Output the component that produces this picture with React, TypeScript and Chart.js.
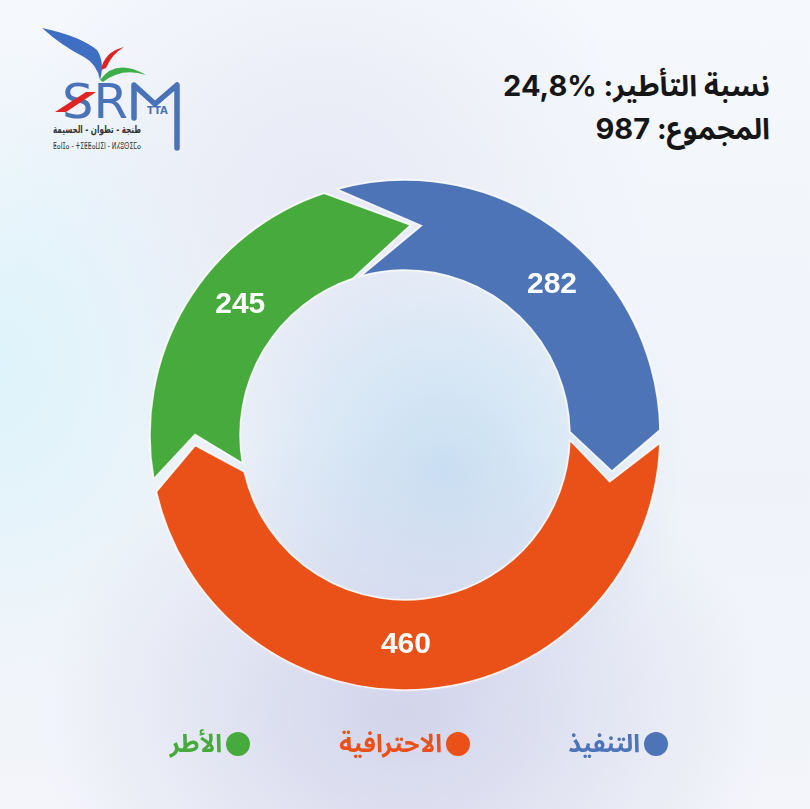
import React, { useEffect, useRef } from "react";
import { Chart, registerables } from "chart.js";

Chart.register(...registerables);

// ---- data ----
const categories = ["التنفيذ", "الاحترافية", "الأطر"];
const values = [282, 460, 245];
const colors = ["#4e74b8", "#ea5119", "#47aa3c"];
const titleLabels = ["نسبة التأطير:", "المجموع:"];
const titleValues = ["24,8%", "987"];
const logoCities = "طنجة - تطوان - الحسيمة";
const logoTifinagh = "ⵟⴰⵏⵊⴰ - ⵜⵉⵟⵟⴰⵡⵉⵏ - ⵍⵃⵓⵙⵉⵎⴰ";

// chevron size (degrees) at the end of each segment, and gap between segments
const tipDegrees = [11, 10, 20];
const gapDegrees = 3;

const legendRight = [142, 340, 560]; // right offsets of legend items (px from right edge)

const chevronPlugin = {
  id: "chevronArcs",
  beforeDatasetsDraw(chart: any) {
    const meta = chart.getDatasetMeta(0);
    const ctx: CanvasRenderingContext2D = chart.ctx;
    const n = meta.data.length;
    const ds = chart.data.datasets[0];
    const rad = Math.PI / 180;
    const g = gapDegrees * rad;
    ctx.save();
    meta.data.forEach((arc: any, i: number) => {
      const { x, y, startAngle, endAngle, innerRadius, outerRadius } = arc.getProps(
        ["x", "y", "startAngle", "endAngle", "innerRadius", "outerRadius"],
        true
      );
      const rMid = (innerRadius + outerRadius) / 2;
      const dEnd = tipDegrees[i] * rad;
      const dStart = tipDegrees[(i - 1 + n) % n] * rad;
      const s0 = startAngle - dStart / 2 + g / 2;
      const sN = startAngle + dStart / 2 + g / 2;
      const e0 = endAngle - dEnd / 2 - g / 2;
      const eT = endAngle + dEnd / 2 - g / 2;
      ctx.beginPath();
      ctx.arc(x, y, outerRadius, s0, e0, false);
      ctx.lineTo(x + rMid * Math.cos(eT), y + rMid * Math.sin(eT));
      ctx.arc(x, y, innerRadius, e0, s0, true);
      ctx.lineTo(x + rMid * Math.cos(sN), y + rMid * Math.sin(sN));
      ctx.closePath();
      ctx.fillStyle = ds.backgroundColor[i];
      ctx.shadowColor = "rgba(255,255,255,0.9)";
      ctx.shadowBlur = 3;
      ctx.fill();
      ctx.shadowBlur = 0;
      ctx.lineWidth = 1.5;
      ctx.strokeStyle = "rgba(255,255,255,0.85)";
      ctx.stroke();

      // value label
      const mid = (startAngle + endAngle) / 2;
      ctx.fillStyle = "#ffffff";
      ctx.font = "bold 30px 'Liberation Sans', Arial, sans-serif";
      ctx.textAlign = "center";
      ctx.textBaseline = "middle";
      ctx.fillText(String(ds.data[i]), x + rMid * Math.cos(mid), y + rMid * Math.sin(mid));
    });
    ctx.restore();
    return false;
  },
};

function Logo() {
  return (
    <svg
      width={200}
      height={170}
      style={{ position: "absolute", left: 0, top: 0 }}
      viewBox="0 0 200 170"
    >
      <path d="M42,28 Q80,36 97,50 Q105,62 100,80 Q97,64 84,57 Q62,46 42,28 Z" fill="#3f6fc2" />
      <path d="M101,70 Q104,52 124,47 Q112,54 106,68 Z" fill="#e02424" />
      <path d="M100,80 Q116,58 146,75 Q122,67 103,82 Z" fill="#3fae49" />
      <text
        x={62}
        y={118}
        fontFamily="'DejaVu Sans', sans-serif"
        fontSize={48}
        fill="#4a72b8"
        textLength={66}
        lengthAdjust="spacingAndGlyphs"
      >
        SR
      </text>
      <polygon points="55,112 86,92 96,92 66,112" fill="#e02424" />
      <path
        d="M134,118 L134,85 L155,104 L177,85 L177,148"
        fill="none"
        stroke="#4a72b8"
        strokeWidth={5.5}
        strokeLinejoin="round"
        strokeLinecap="round"
      />
      <text x={147} y={114} fontFamily="'DejaVu Sans', sans-serif" fontSize={10} fontWeight="bold" fill="#4a72b8">
        TTA
      </text>
      <text
        x={53}
        y={133}
        fontFamily="'DejaVu Sans', sans-serif"
        fontSize={11}
        fontWeight="bold"
        fill="#333"
        textLength={88}
        lengthAdjust="spacingAndGlyphs"
      >
        {logoCities}
      </text>
      <text
        x={53}
        y={149}
        fontFamily="'DejaVu Sans', 'Noto Sans', sans-serif"
        fontSize={9}
        fill="#333"
        textLength={88}
        lengthAdjust="spacingAndGlyphs"
      >
        {logoTifinagh}
      </text>
    </svg>
  );
}

export default function App() {
  const canvasRef = useRef<HTMLCanvasElement | null>(null);

  useEffect(() => {
    if (!canvasRef.current) return;
    const chart = new Chart(canvasRef.current, {
      type: "doughnut",
      data: {
        labels: categories,
        datasets: [
          {
            data: values,
            backgroundColor: colors,
            borderWidth: 0,
            hoverBorderWidth: 0,
            hoverOffset: 0,
          },
        ],
      },
      options: {
        responsive: false,
        animation: false,
        events: [],
        cutout: "64.7%",
        rotation: -7,
        layout: { padding: { top: 180, bottom: 119, left: 150, right: 150 } },
        plugins: {
          legend: { display: false },
          tooltip: { enabled: false },
          title: { display: false },
        },
      },
      plugins: [chevronPlugin],
    });
    return () => chart.destroy();
  }, []);

  return (
    <div
      style={{
        position: "fixed",
        left: 0,
        top: 0,
        width: 810,
        height: 809,
        overflow: "hidden",
        background:
          "radial-gradient(ellipse 45% 35% at 50% 88%, rgba(208,210,234,0.95) 0%, rgba(208,210,234,0) 100%)," +
          "radial-gradient(ellipse 30% 30% at 55% 58%, rgba(196,222,242,0.9) 0%, rgba(196,222,242,0) 100%)," +
          "radial-gradient(ellipse 30% 40% at 0% 45%, rgba(222,243,251,1) 0%, rgba(222,243,251,0) 100%)," +
          "radial-gradient(ellipse 40% 40% at 40% 25%, rgba(228,230,244,0.8) 0%, rgba(228,230,244,0) 100%)," +
          "linear-gradient(180deg, #f5f8fc 0%, #eff3f9 60%, #f3f5fa 100%)",
      }}
    >
      <Logo />
      <div
        style={{
          position: "absolute",
          right: 40,
          top: 64,
          direction: "rtl",
          textAlign: "right",
          fontFamily: "Inter, 'Noto Sans Arabic', 'DejaVu Sans', sans-serif",
          fontWeight: 700,
          fontSize: 29,
          lineHeight: "43px",
          color: "#161616",
          whiteSpace: "nowrap",
        }}
      >
        {titleLabels.map((t, i) => (
          <div key={i}>
            {t} <bdi dir="ltr">{titleValues[i]}</bdi>
          </div>
        ))}
      </div>
      <canvas
        ref={canvasRef}
        width={810}
        height={809}
        style={{ position: "absolute", left: 0, top: 0, width: 810, height: 809 }}
      />
      {categories.map((c, i) => (
        <div
          key={c}
          style={{
            position: "absolute",
            right: legendRight[i],
            top: 727,
            display: "flex",
            flexDirection: "row-reverse",
            alignItems: "center",
            gap: 4,
            direction: "ltr",
          }}
        >
          <span
            style={{
              width: 24,
              height: 24,
              borderRadius: "50%",
              background: colors[i],
              display: "inline-block",
            }}
          />
          <span
            style={{
              direction: "rtl",
              color: colors[i],
              fontFamily: "'Noto Sans Arabic', 'DejaVu Sans', sans-serif",
              fontWeight: 700,
              fontSize: 25,
              lineHeight: "34px",
              whiteSpace: "nowrap",
            }}
          >
            {c}
          </span>
        </div>
      ))}
    </div>
  );
}
